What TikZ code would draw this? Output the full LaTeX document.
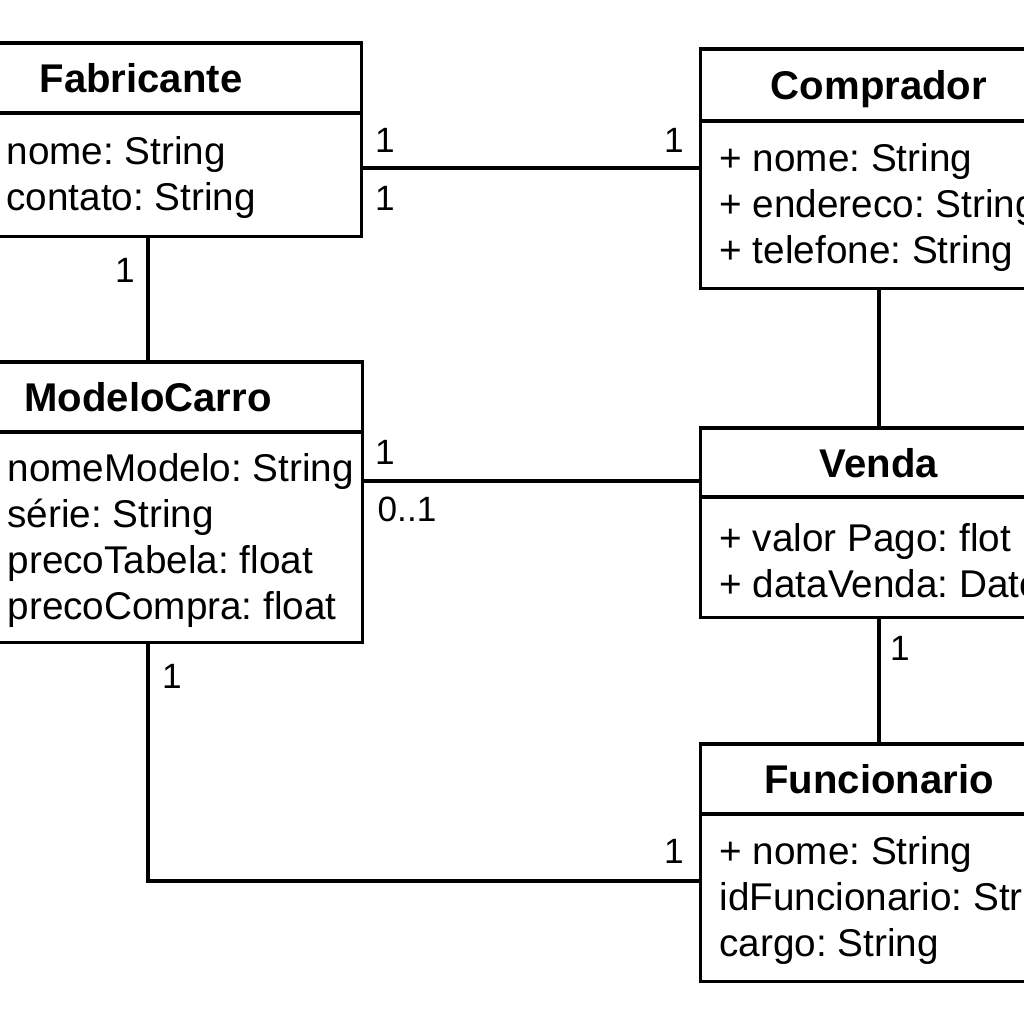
\documentclass[tikz,border=0pt]{standalone}
\usepackage{fontspec}
\setmainfont{Liberation Sans}
\usetikzlibrary{positioning}
\frenchspacing

\tikzset{
  box/.style={draw, line width=0.9pt, rectangle, inner sep=0pt, outer sep=0pt},
  classname/.style={box, text depth=0pt, font=\fontsize{11.4pt}{13pt}\selectfont\bfseries},
  classbody/.style={box},
  attrs/.style={inner sep=0pt, yshift=-0.9pt, align=left, font=\fontsize{11pt}{13.1pt}\selectfont},
  mult/.style={inner sep=0pt, font=\fontsize{10pt}{12pt}\selectfont},
  assoc/.style={line width=0.9pt}
}

\begin{document}
\begin{tikzpicture}[x=0.01cm, y=-0.01cm]
  \useasboundingbox (0,0) rectangle (1024,1024);
  \clip (0,0) rectangle (1024,1024);

  % Fabricante
  \node[classname, minimum width=4.40cm, minimum height=0.70cm] (fabh) at (141,78) {Fabricante};
  \node[classbody, minimum width=4.40cm, minimum height=1.23cm, below=0pt of fabh] (fabb) {};
  \node[attrs, right=0.85cm of fabb.west] (fabt) {nome: String\\contato: String};

  % Comprador
  \node[classname, minimum width=3.56cm, minimum height=0.72cm] (comph) at (879,85) {Comprador};
  \node[classbody, minimum width=3.56cm, minimum height=1.67cm, below=0pt of comph] (compb) {};
  \node[attrs, right=0.18cm of compb.west] (compt) {+ nome: String\\+ endereco: String\\+ telefone: String};

  % ModeloCarro
  \node[classname, minimum width=4.28cm, minimum height=0.70cm] (modh) at (148,397) {ModeloCarro};
  \node[classbody, minimum width=4.28cm, minimum height=2.10cm, below=0pt of modh] (modb) {};
  \node[attrs, right=0.73cm of modb.west] (modt) {nomeModelo: String\\série: String\\precoTabela: float\\precoCompra: float};

  % Venda
  \node[classname, minimum width=3.56cm, minimum height=0.69cm] (vendah) at (879,462.5) {Venda};
  \node[classbody, minimum width=3.56cm, minimum height=1.20cm, below=0pt of vendah] (vendab) {};
  \node[attrs, right=0.18cm of vendab.west] (vendat) {+ valor Pago: flot\\+ dataVenda: Date};

  % Funcionario
  \node[classname, minimum width=3.56cm, minimum height=0.70cm] (funch) at (879,779) {Funcionario};
  \node[classbody, minimum width=3.56cm, minimum height=1.67cm, below=0pt of funch] (funcb) {};
  \node[attrs, right=0.18cm of funcb.west] (funct) {+ nome: String\\idFuncionario: String\\cargo: String};

  % associations
  \draw[assoc] (fabb.east) ++(0,-6.5) coordinate (fc) -- (fc -| compb.west);
  \draw[assoc] (modh.north) -- (modh.north |- fabb.south);
  \draw[assoc] (compb.south) -- (vendah.north);
  \draw[assoc] (modb.north east) ++(0,49) coordinate (mv) -- (mv -| vendah.west);
  \draw[assoc] (vendab.south) -- (funch.north);
  \path (funcb.west) ++(0,-16.5) coordinate (mf);
  \draw[assoc] (modb.south) |- (mf);

  % multiplicities
  \node[mult] (mfc1) at (385,140) {1};
  \node[mult] (mfc2) at (385,198) {1};
  \node[mult] (mfc3) at (674,140) {1};
  \node[mult] (mfm) at (125,270) {1};
  \node[mult] (mmv1) at (385,452) {1};
  \node[mult] (mmv2) at (407,509) {0..1};
  \node[mult] (mvf) at (900,648) {1};
  \node[mult] (mmf1) at (172,676) {1};
  \node[mult] (mmf2) at (674,851) {1};
\end{tikzpicture}
\end{document}
